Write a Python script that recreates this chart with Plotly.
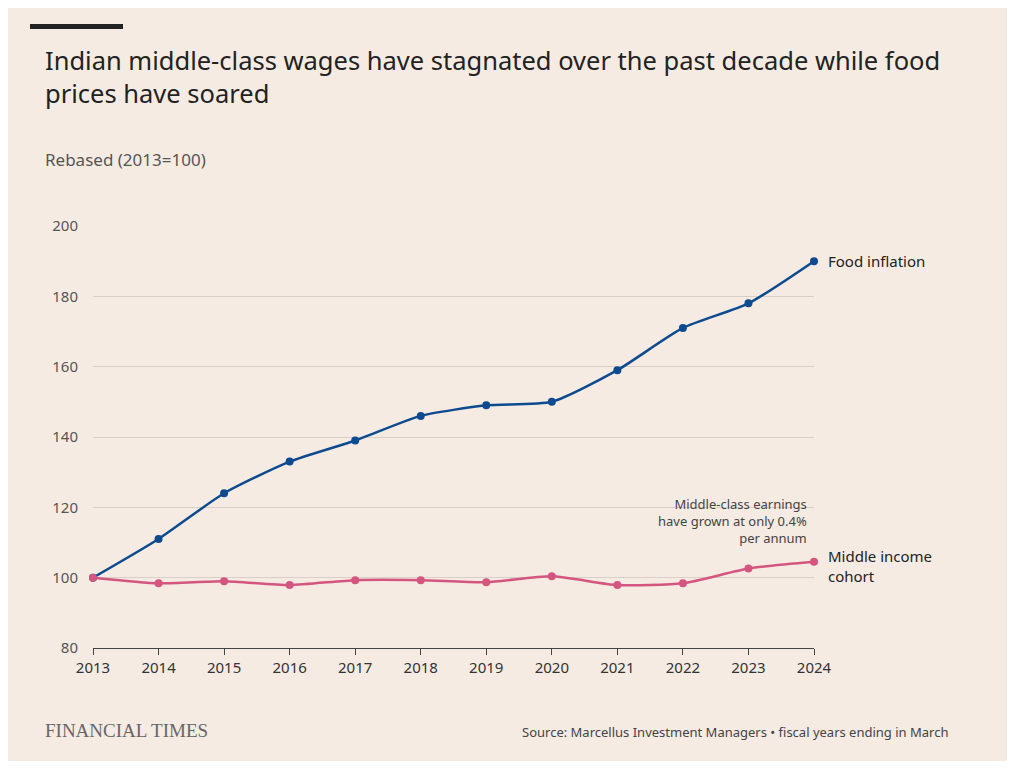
import plotly.graph_objects as go

years = list(range(2013, 2025))
food = [100, 111, 124, 133, 139, 146, 149, 150, 159, 171, 178, 190]
middle = [100, 98.4, 99, 97.9, 99.3, 99.3, 98.7, 100.4, 97.9, 98.4, 102.6, 104.5]
yticks = [80, 100, 120, 140, 160, 180, 200]

fig = go.Figure()
fig.add_trace(go.Scatter(x=years, y=food, mode="lines+markers", line=dict(color="#0d4a8f", width=2.5, shape="spline", smoothing=0.6),
                         marker=dict(size=8, color="#0d4a8f"), hoverinfo="skip", cliponaxis=False))
fig.add_trace(go.Scatter(x=years, y=middle, mode="lines+markers", line=dict(color="#d4557f", width=2.5, shape="spline", smoothing=0.6),
                         marker=dict(size=8, color="#d4557f"), hoverinfo="skip", cliponaxis=False))

F = "Noto Sans"
fig.update_layout(
    width=1000, height=753, showlegend=False,
    paper_bgcolor="#f5ebe3", plot_bgcolor="rgba(0,0,0,0)",
    margin=dict(l=85, r=194, t=218, b=113),
    font=dict(family=F, color="#333"),
    xaxis=dict(range=[2013, 2024], tickvals=years, showgrid=False, zeroline=False,
               ticks="outside", ticklen=6, tickcolor="#444", showline=True, linecolor="#444",
               tickfont=dict(size=15, color="#333")),
    yaxis=dict(range=[80, 200], tickvals=yticks, showgrid=True, gridcolor="#d8cfc8", zeroline=False,
               ticks="", tickfont=dict(size=15, color="#555"), ticklabelstandoff=14),
)
fig.add_shape(type="rect", xref="paper", yref="paper", x0=-63/721, x1=30/721, y0=1+(226-24)/422, y1=1+(226-29)/422,
              fillcolor="#222", line=dict(width=0))
fig.add_annotation(xref="paper", yref="paper", x=-50/721, y=1+(226-41)/422, xanchor="left", yanchor="top", align="left", showarrow=False,
                   text="Indian middle-class wages have stagnated over the past decade while food<br>prices have soared",
                   font=dict(size=25.5, color="#222"))
fig.add_annotation(xref="paper", yref="paper", x=-50/721, y=1+(226-146)/422, xanchor="left", yanchor="top", showarrow=False,
                   text="Rebased (2013=100)", font=dict(size=17, color="#555"))
fig.add_annotation(x=2024, y=190, xanchor="left", showarrow=False, xshift=12, text="Food inflation",
                   font=dict(size=15, color="#222"))
fig.add_annotation(x=2024, y=104.5, xanchor="left", showarrow=False, xshift=12, align="left", yshift=-4,
                   text="Middle income<br>cohort", font=dict(size=15, color="#222"))
fig.add_annotation(x=2024, y=116, xanchor="right", showarrow=False, xshift=-5, align="right",
                   text="Middle-class earnings<br>have grown at only 0.4%<br>per annum", font=dict(size=13, color="#444"))
fig.add_annotation(xref="paper", yref="paper", x=-50/721, y=-(730-648)/422, xanchor="left", yanchor="middle", showarrow=False,
                   text="FINANCIAL TIMES", font=dict(family="Liberation Serif", size=19, color="#666"))
fig.add_annotation(xref="paper", yref="paper", x=(950-93)/721, y=-(732-648)/422, xanchor="right", yanchor="middle", showarrow=False,
                   text="Source: Marcellus Investment Managers • fiscal years ending in March", font=dict(size=13, color="#444"))
fig.write_html("out.html")
